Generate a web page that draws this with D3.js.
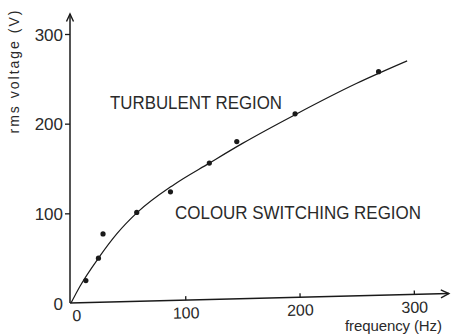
<!DOCTYPE html>
<html>
<head>
<meta charset="utf-8">
<script src="https://cdn.jsdelivr.net/npm/d3@7"></script>
<style>
  body { margin: 0; background: #fff; }
  text { font-family: "Liberation Sans", Arial, sans-serif; fill: #2a2a2a; }
</style>
</head>
<body>
<div id="chart"></div>
<script>
// Measured points
const freq = [13, 24, 28, 57.5, 87, 121, 145, 196, 269];
const volts = [25, 50, 77, 101, 124, 156, 180, 211, 258];

// Hand-drawn fitted curve
const fitFreq = [0, 8, 24, 40, 58, 90, 121, 150, 196, 250, 294];
const fitVolts = [0, 19, 50, 77, 101, 132, 156, 178, 210, 245, 270];

const xTicks = [0, 100, 200, 300];
const yTicks = [0, 100, 200, 300];

const width = 460;
const height = 336;

const svg = d3.select("#chart").append("svg")
    .attr("width", width)
    .attr("height", height);

const x = d3.scaleLinear().domain([0, 300]).range([71, 414]);
const y = d3.scaleLinear().domain([0, 300]).range([303, 34]);

const ink = "#1a1a1a";

// y axis
const yAxis = svg.append("g")
    .attr("transform", `translate(${x(0) - 1},0)`)
    .call(d3.axisLeft(y).tickValues(yTicks).tickSize(5).tickPadding(2).tickFormat(d3.format("d")));
yAxis.select(".domain").remove();
yAxis.selectAll("line").attr("stroke", ink).attr("stroke-width", 1.3);
yAxis.selectAll("text").style("font-size", "17px").attr("dy", "0.36em");
yAxis.selectAll(".tick").filter(d => d === 0).select("line").remove();

svg.append("line")
    .attr("x1", x(0) - 1).attr("x2", x(0) - 1)
    .attr("y1", y(0)).attr("y2", 14)
    .attr("stroke", ink).attr("stroke-width", 1.5);
svg.append("path")
    .attr("d", `M${x(0) - 4.5},21.5L${x(0) - 1},14L${x(0) + 2.5},21.5`)
    .attr("fill", "none").attr("stroke", ink).attr("stroke-width", 1.4);

// x axis (drawn slightly tilted, as in the original drawing)
const xg = svg.append("g")
    .attr("transform", `rotate(-1.43, ${x(0)}, ${y(0)})`);
const xAxis = xg.append("g")
    .attr("transform", `translate(0,${y(0)})`)
    .call(d3.axisBottom(x).tickValues(xTicks).tickSizeInner(-4).tickSizeOuter(0).tickPadding(7).tickFormat(d3.format("d")));
xAxis.select(".domain").remove();
xAxis.selectAll("line").attr("stroke", ink).attr("stroke-width", 1.3);
xAxis.selectAll("text").style("font-size", "16px");
xAxis.selectAll(".tick").filter(d => d === 0).select("line").remove();
xAxis.selectAll(".tick").filter(d => d === 0).select("text").attr("dx", 5);

xg.append("line")
    .attr("x1", x(0) - 1).attr("x2", 449)
    .attr("y1", y(0)).attr("y2", y(0))
    .attr("stroke", ink).attr("stroke-width", 1.5);
xg.append("path")
    .attr("d", `M441,${y(0) - 4}L449,${y(0)}L441,${y(0) + 4}`)
    .attr("fill", "none").attr("stroke", ink).attr("stroke-width", 1.4);

// axis titles
svg.append("text")
    .attr("transform", "translate(19,72) rotate(-90)")
    .attr("text-anchor", "middle")
    .attr("textLength", 123)
    .attr("lengthAdjust", "spacing")
    .style("font-size", "14px")
    .text("rms voltage (V)");

svg.append("text")
    .attr("x", 345).attr("y", 331)
    .attr("textLength", 97)
    .attr("lengthAdjust", "spacing")
    .style("font-size", "15px")
    .text("frequency (Hz)");

// fitted curve
const fit = fitFreq.map((f, i) => [f, fitVolts[i]]);
svg.append("path")
    .datum(fit)
    .attr("fill", "none")
    .attr("stroke", ink)
    .attr("stroke-width", 1.2)
    .attr("d", d3.line().x(d => x(d[0])).y(d => y(d[1])).curve(d3.curveMonotoneX));

// measured points
svg.append("g")
    .selectAll("circle")
    .data(freq.map((f, i) => [f, volts[i]]))
    .enter().append("circle")
    .attr("cx", d => x(d[0]))
    .attr("cy", d => y(d[1]))
    .attr("r", 2.6)
    .attr("fill", ink);

// region labels
svg.append("text")
    .attr("x", 110).attr("y", 109)
    .attr("textLength", 172)
    .attr("lengthAdjust", "spacingAndGlyphs")
    .style("font-size", "19px")
    .text("TURBULENT REGION");

svg.append("text")
    .attr("x", 175).attr("y", 218.5)
    .attr("textLength", 246)
    .attr("lengthAdjust", "spacingAndGlyphs")
    .style("font-size", "19px")
    .text("COLOUR SWITCHING REGION");
</script>
</body>
</html>
